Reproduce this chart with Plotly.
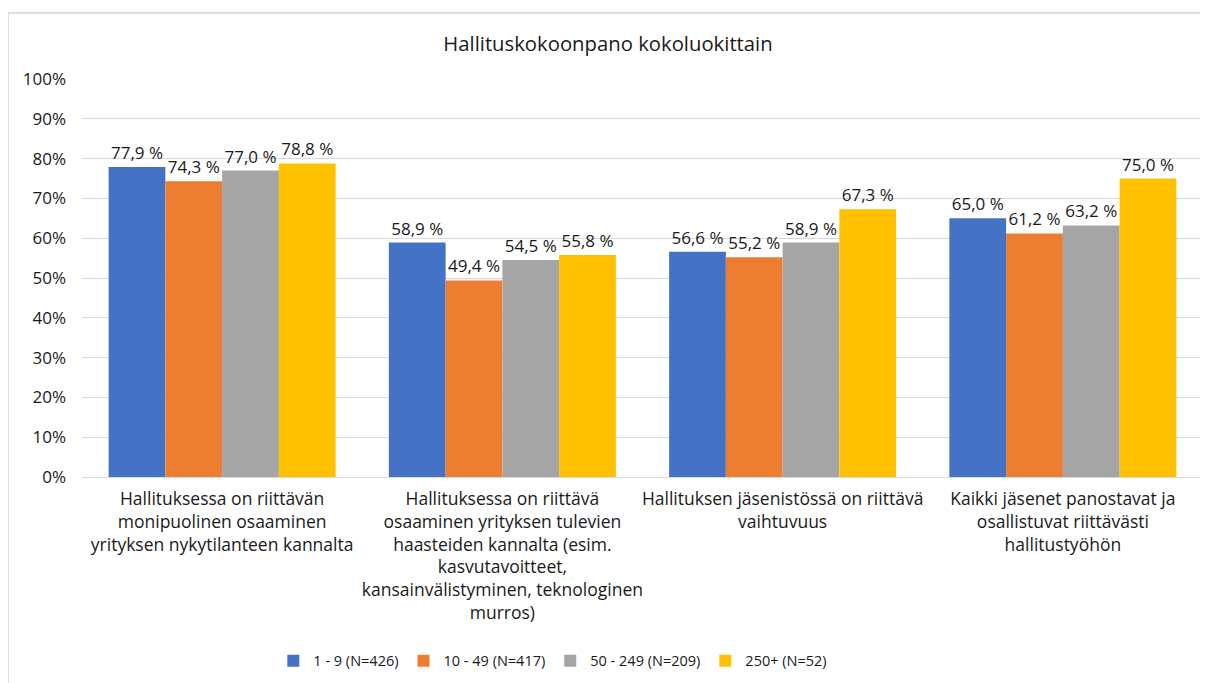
import plotly.graph_objects as go

categories = [
    "Hallituksessa on riittävän<br>monipuolinen osaaminen<br>yrityksen nykytilanteen kannalta",
    "Hallituksessa on riittävä<br>osaaminen yrityksen tulevien<br>haasteiden kannalta (esim.<br>kasvutavoitteet,<br>kansainvälistyminen, teknologinen<br>murros)",
    "Hallituksen jäsenistössä on riittävä<br>vaihtuvuus",
    "Kaikki jäsenet panostavat ja<br>osallistuvat riittävästi<br>hallitustyöhön",
]
series_names = ["1 - 9 (N=426)", "10 - 49 (N=417)", "50 - 249 (N=209)", "250+ (N=52)"]
values_1_9 = [77.9, 58.9, 56.6, 65.0]
values_10_49 = [74.3, 49.4, 55.2, 61.2]
values_50_249 = [77.0, 54.5, 58.9, 63.2]
values_250 = [78.8, 55.8, 67.3, 75.0]
colors = ["#4472C4", "#ED7D31", "#A5A5A5", "#FFC000"]

FONT = "Open Sans, Lato, sans-serif"
TEXT = "#1a1a1a"

fig = go.Figure()
for name, vals, color in zip(series_names, [values_1_9, values_10_49, values_50_249, values_250], colors):
    fig.add_trace(go.Bar(
        x=categories,
        y=vals,
        name=name,
        marker=dict(color=color, line=dict(width=0)),
        text=[f"{v:.1f} %".replace(".", ",") for v in vals],
        textposition="outside",
        textfont=dict(size=17, color=TEXT),
        cliponaxis=False,
    ))

# the page puts the figure 8px in from the top-left corner
fig.update_layout(
    width=1200,
    height=675,
    font=dict(family=FONT, size=17, color=TEXT),
    title=dict(text="Hallituskokoonpano kokoluokittain", x=0.5, xanchor="center",
               y=0.947, yanchor="middle", font=dict(size=20.3, color=TEXT)),
    barmode="group",
    bargap=0.19,
    bargroupgap=0,
    plot_bgcolor="white",
    paper_bgcolor="white",
    margin=dict(l=74, r=5, t=71, b=206),
    legend=dict(orientation="h", x=0.42, xanchor="center", y=-0.462, yanchor="middle",
                font=dict(size=14.5), traceorder="normal", itemwidth=30),
    yaxis=dict(range=[0, 100], tickvals=list(range(0, 101, 10)),
               ticktext=[f"{v}%" for v in range(0, 101, 10)],
               gridcolor="#D9D9D9", gridwidth=1, zeroline=False, showline=False,
               tickfont=dict(size=17), ticks="", ticklen=0, automargin=False,
               ticklabelstandoff=15),
    xaxis=dict(showline=True, linecolor="#D9D9D9", tickfont=dict(size=17.5), ticks="",
               tickangle=0, automargin=False, ticklabelstandoff=6),
    showlegend=True,
)

fig.add_shape(type="rect", xref="paper", yref="paper", x0=-0.066, x1=1.0036, y0=-0.6, y1=1.166,
              line=dict(color="#BFBFBF", width=1), fillcolor="rgba(0,0,0,0)", layer="below")

fig.write_html("out.html")
